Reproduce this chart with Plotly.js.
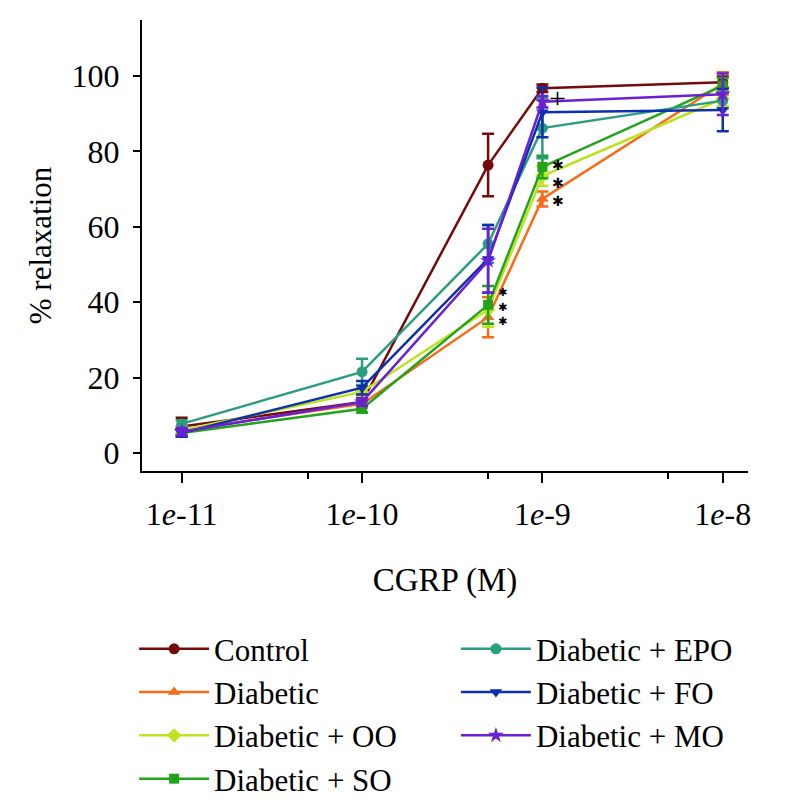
<!DOCTYPE html>
<html>
<head>
<meta charset="utf-8">
<script src="https://cdn.plot.ly/plotly-3.0.1.min.js"></script>
<style>html,body{margin:0;padding:0;background:#fff;}#chart{width:796px;height:809px;}</style>
</head>
<body>
<div id="chart"></div>
<script>
// Concentrations of CGRP (M)
const conc = [1e-11, 1e-10, 5e-10, 1e-9, 1e-8];
const tickVals = [1e-11, 1e-10, 1e-9, 1e-8];
const tickText = ["1<i>e</i>-11", "1<i>e</i>-10", "1<i>e</i>-9", "1<i>e</i>-8"];
const minorVals = [5e-11, 5e-10, 5e-9];

// % relaxation (mean) and error (SEM) per group
const control     = [7.0, 13.5, 76.4, 96.8, 98.4];
const controlErr  = [2.3, 1.0, 8.3, 1.0, 1.5];
const diabetic    = [6.0, 13.0, 36.0, 67.4, 98.0];
const diabeticErr = [1.0, 1.0, 5.3, 2.0, 3.0];
const oo          = [6.0, 16.2, 38.0, 73.5, 94.0];
const ooErr       = [1.0, 1.0, 4.5, 2.6, 2.0];
const so          = [5.3, 11.7, 39.3, 75.9, 97.5];
const soErr       = [1.0, 1.0, 5.0, 3.0, 2.0];
const epo         = [7.7, 21.5, 55.5, 86.2, 93.5];
const epoErr      = [1.0, 3.5, 5.0, 8.0, 2.0];
const fo          = [5.3, 17.3, 51.5, 90.4, 91.0];
const foErr       = [1.0, 1.8, 9.0, 6.6, 5.6];
const mo          = [5.6, 13.5, 51.0, 93.2, 95.2];
const moErr       = [1.0, 1.0, 8.5, 1.5, 5.5];

const names = ["Control", "Diabetic", "Diabetic + OO", "Diabetic + SO", "Diabetic + EPO", "Diabetic + FO", "Diabetic + MO"];

// significance marks: concentration, centre level, number of stacked marks, mark
const sigConc  = [1e-9, 1e-9, 5e-10];
const sigY     = [94.4, 71.75, 38.6];
const sigCount = [1, 3, 3];
const sigMark  = ["+", "\u2731", "\u2731"];

const FONT = "Liberation Serif, Times New Roman, serif";

const series = [
  {name: names[0], y: control,  e: controlErr,  color: "#740b0b", symbol: "circle",        size: 11, legend: "legend"},
  {name: names[1], y: diabetic, e: diabeticErr, color: "#f96a1a", symbol: "triangle-up",   size: 11, legend: "legend"},
  {name: names[2], y: oo,       e: ooErr,       color: "#bde31f", symbol: "diamond",       size: 11, legend: "legend"},
  {name: names[3], y: so,       e: soErr,       color: "#21a41c", symbol: "square",        size: 10, legend: "legend"},
  {name: names[4], y: epo,      e: epoErr,      color: "#2b9e80", symbol: "circle",        size: 11, legend: "legend2"},
  {name: names[5], y: fo,       e: foErr,       color: "#0e2fae", symbol: "triangle-down", size: 11, legend: "legend2"},
  {name: names[6], y: mo,       e: moErr,       color: "#6a20d4", symbol: "star",          size: 12, legend: "legend2"}
];

const traces = series.map(s => ({
  type: "scatter",
  mode: "lines+markers",
  name: s.name,
  x: conc,
  y: s.y,
  legend: s.legend,
  line: {color: s.color, width: 2.5},
  marker: {color: s.color, symbol: s.symbol, size: s.size},
  error_y: {type: "data", array: s.e, visible: true, color: s.color, thickness: 2.5, width: 6}
}));

const annotations = sigMark.map((m, i) => {
  const isStar = m !== "+";
  const lines = [];
  for (let k = 0; k < sigCount[i]; k++) lines.push(m);
  return {
    xref: "x", yref: "y",
    x: Math.log10(sigConc[i]) + (sigConc[i] === 1e-9 ? 0.085 : 0.078),
    y: sigY[i],
    text: lines.join("<br>"),
    showarrow: false,
    xanchor: "center", yanchor: "middle",
    font: {family: isStar ? "DejaVu Sans" : FONT, size: isStar ? (sigConc[i] === 1e-9 ? 14 : 11.2) : 30, color: "#000"}
  };
});

const layout = {
  width: 796, height: 809,
  margin: {l: 142, r: 48, t: 20, b: 338},
  paper_bgcolor: "#fff", plot_bgcolor: "#fff",
  font: {family: FONT, color: "#000"},
  showlegend: true,
  xaxis: {
    type: "log",
    range: [-11.22, -7.86],
    tickmode: "array", tickvals: tickVals, ticktext: tickText,
    ticks: "outside", ticklen: 10, tickwidth: 2, tickcolor: "#000",
    minor: {tickmode: "array", tickvals: minorVals, ticks: "outside", ticklen: 6, tickwidth: 2, tickcolor: "#000"},
    showline: true, linecolor: "#000", linewidth: 2,
    showgrid: false, zeroline: false,
    tickfont: {family: FONT, size: 32},
    ticklabelstandoff: 4,
    title: {text: "CGRP (M)", font: {family: FONT, size: 33}, standoff: 36}
  },
  yaxis: {
    range: [-4.8, 114.9],
    tickmode: "array", tickvals: [0, 20, 40, 60, 80, 100],
    ticks: "outside", ticklen: 7, tickwidth: 2, tickcolor: "#000",
    showline: true, linecolor: "#000", linewidth: 2,
    showgrid: false, zeroline: false,
    tickfont: {family: FONT, size: 32},
    ticklabelstandoff: 7,
    title: {text: "% relaxation", font: {family: FONT, size: 31}, standoff: 11}
  },
  legend: {
    xref: "paper", yref: "container",
    x: -0.013, y: 0.231, xanchor: "left", yanchor: "top",
    orientation: "v", bgcolor: "rgba(0,0,0,0)",
    font: {family: FONT, size: 31}, itemwidth: 70, tracegroupgap: 0
  },
  legend2: {
    xref: "paper", yref: "container",
    x: 0.518, y: 0.231, xanchor: "left", yanchor: "top",
    orientation: "v", bgcolor: "rgba(0,0,0,0)",
    font: {family: FONT, size: 31}, itemwidth: 70, tracegroupgap: 0
  },
  annotations: annotations
};

Plotly.newPlot("chart", traces, layout, {displayModeBar: false, staticPlot: true});
</script>
</body>
</html>
